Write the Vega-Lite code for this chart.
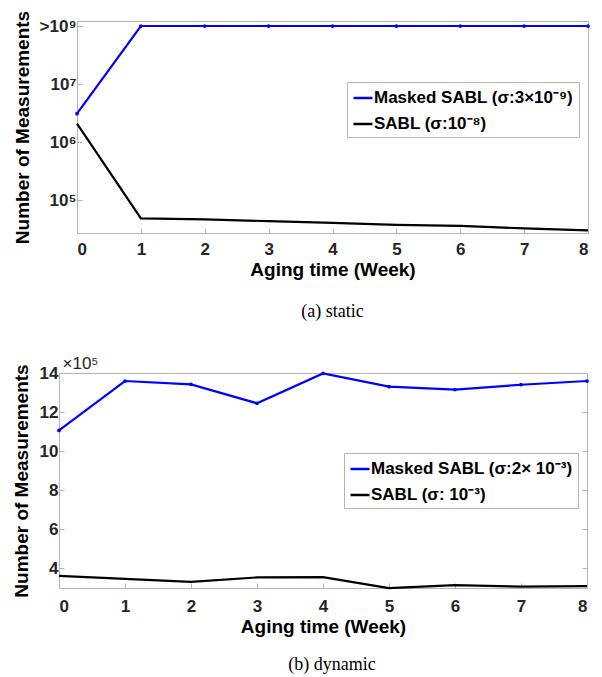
{
  "$schema": "https://vega.github.io/schema/vega-lite/v6.json",
  "padding": {"top": 9, "left": 12, "right": 5, "bottom": 2},
  "background": "white",
  "config": {
    "view": {"stroke": "#b5b5b5", "strokeWidth": 1},
    "font": "Liberation Sans",
    "axis": {
      "grid": false,
      "labelFont": "Liberation Sans",
      "labelFontWeight": "bold",
      "labelFontSize": 17,
      "labelColor": "#262626",
      "titleFont": "Liberation Sans",
      "titleFontWeight": "bold",
      "titleFontSize": 19,
      "titleColor": "#000000",
      "domainColor": "#b5b5b5",
      "tickColor": "#b5b5b5",
      "tickSize": -5
    },
    "legend": {
      "labelFont": "Liberation Sans",
      "labelFontWeight": "bold",
      "labelFontSize": 17,
      "labelColor": "#000000",
      "labelLimit": 400,
      "strokeColor": "#b5b5b5",
      "fillColor": "white",
      "padding": 5,
      "symbolType": "stroke",
      "symbolSize": 361,
      "symbolStrokeWidth": 2.5,
      "rowPadding": 7,
      "labelOffset": 0
    },
    "title": {
      "font": "Liberation Serif",
      "fontSize": 18,
      "fontWeight": "normal",
      "color": "#000000"
    }
  },
  "resolve": {"scale": {"color": "independent"}, "legend": {"color": "independent"}},
  "columns": 1,
  "align": "none",
  "spacing": 32,
  "concat": [
    {
      "title": {"text": "(a)  static", "orient": "bottom", "anchor": "middle", "offset": 24},
      "width": 511,
      "height": 212,
      "data": {
        "values": [
          {"week": 0, "value": 3100000, "series": "Masked SABL (σ:3×10⁻⁹)"},
          {"week": 1, "value": 100000000, "series": "Masked SABL (σ:3×10⁻⁹)"},
          {"week": 2, "value": 100000000, "series": "Masked SABL (σ:3×10⁻⁹)"},
          {"week": 3, "value": 100000000, "series": "Masked SABL (σ:3×10⁻⁹)"},
          {"week": 4, "value": 100000000, "series": "Masked SABL (σ:3×10⁻⁹)"},
          {"week": 5, "value": 100000000, "series": "Masked SABL (σ:3×10⁻⁹)"},
          {"week": 6, "value": 100000000, "series": "Masked SABL (σ:3×10⁻⁹)"},
          {"week": 7, "value": 100000000, "series": "Masked SABL (σ:3×10⁻⁹)"},
          {"week": 8, "value": 100000000, "series": "Masked SABL (σ:3×10⁻⁹)"},
          {"week": 0, "value": 2100000, "series": "SABL (σ:10⁻⁸)"},
          {"week": 1, "value": 49000, "series": "SABL (σ:10⁻⁸)"},
          {"week": 2, "value": 47000, "series": "SABL (σ:10⁻⁸)"},
          {"week": 3, "value": 44000, "series": "SABL (σ:10⁻⁸)"},
          {"week": 4, "value": 41000, "series": "SABL (σ:10⁻⁸)"},
          {"week": 5, "value": 38000, "series": "SABL (σ:10⁻⁸)"},
          {"week": 6, "value": 36500, "series": "SABL (σ:10⁻⁸)"},
          {"week": 7, "value": 33000, "series": "SABL (σ:10⁻⁸)"},
          {"week": 8, "value": 30500, "series": "SABL (σ:10⁻⁸)"}
        ]
      },
      "layer": [
        {
          "mark": {"type": "line", "strokeWidth": 2.2},
          "encoding": {
            "x": {
              "field": "week", "type": "quantitative",
              "scale": {"domain": [0, 8], "nice": false},
              "axis": {"title": "Aging time (Week)", "values": [0, 1, 2, 3, 4, 5, 6, 7, 8], "format": "d", "labelPadding": 13, "titlePadding": 3}
            },
            "y": {
              "field": "value", "type": "quantitative",
              "scale": {"type": "log", "domain": [27500, 122000000], "nice": false},
              "axis": {
                "title": "Number of Measurements",
                "values": [100000, 1000000, 10000000, 100000000],
                "labelExpr": "datum.value >= 1e8 ? '>10⁹' : datum.value >= 1e7 ? '10⁷' : datum.value >= 1e6 ? '10⁶' : '10⁵'",
                "labelPadding": 6,
                "titlePadding": 7
              }
            },
            "color": {
              "field": "series", "type": "nominal",
              "scale": {"domain": ["Masked SABL (σ:3×10⁻⁹)", "SABL (σ:10⁻⁸)"], "range": ["#0000ff", "#000000"]},
              "legend": {"title": null, "orient": "none", "legendX": 270, "legendY": 61}
            }
          }
        },
        {
          "transform": [{"filter": "datum.series == 'Masked SABL (σ:3×10⁻⁹)'"}],
          "mark": {"type": "point", "filled": true, "size": 14, "color": "#0000ff", "opacity": 1},
          "encoding": {
            "x": {"field": "week", "type": "quantitative"},
            "y": {"field": "value", "type": "quantitative"}
          }
        }
      ]
    },
    {
      "title": {"text": "(b)  dynamic", "orient": "bottom", "anchor": "middle", "offset": 20},
      "width": 510,
      "height": 215,
      "view": {"stroke": null},
      "data": {
        "values": [
          {"week": 0, "value": 1106000, "series": "Masked SABL (σ:2× 10⁻³)"},
          {"week": 1, "value": 1359000, "series": "Masked SABL (σ:2× 10⁻³)"},
          {"week": 2, "value": 1342000, "series": "Masked SABL (σ:2× 10⁻³)"},
          {"week": 3, "value": 1245000, "series": "Masked SABL (σ:2× 10⁻³)"},
          {"week": 4, "value": 1398000, "series": "Masked SABL (σ:2× 10⁻³)"},
          {"week": 5, "value": 1330000, "series": "Masked SABL (σ:2× 10⁻³)"},
          {"week": 6, "value": 1315000, "series": "Masked SABL (σ:2× 10⁻³)"},
          {"week": 7, "value": 1340000, "series": "Masked SABL (σ:2× 10⁻³)"},
          {"week": 8, "value": 1359000, "series": "Masked SABL (σ:2× 10⁻³)"},
          {"week": 0, "value": 362000, "series": "SABL (σ: 10⁻³)"},
          {"week": 1, "value": 347000, "series": "SABL (σ: 10⁻³)"},
          {"week": 2, "value": 331000, "series": "SABL (σ: 10⁻³)"},
          {"week": 3, "value": 354000, "series": "SABL (σ: 10⁻³)"},
          {"week": 4, "value": 356000, "series": "SABL (σ: 10⁻³)"},
          {"week": 5, "value": 299000, "series": "SABL (σ: 10⁻³)"},
          {"week": 6, "value": 315000, "series": "SABL (σ: 10⁻³)"},
          {"week": 7, "value": 307000, "series": "SABL (σ: 10⁻³)"},
          {"week": 8, "value": 310000, "series": "SABL (σ: 10⁻³)"}
        ]
      },
      "layer": [
        {
          "mark": {"type": "line", "strokeWidth": 2.2},
          "encoding": {
            "x": {
              "field": "week", "type": "quantitative",
              "scale": {"domain": [0, 8], "nice": false, "range": [-18, 510]},
              "axis": {"title": "Aging time (Week)", "values": [0, 1, 2, 3, 4, 5, 6, 7, 8], "format": "d", "labelPadding": 15, "titlePadding": 3}
            },
            "y": {
              "field": "value", "type": "quantitative",
              "scale": {"domain": [300000, 1400000], "nice": false},
              "axis": {
                "title": "Number of Measurements",
                "values": [400000, 600000, 800000, 1000000, 1200000, 1400000],
                "labelExpr": "format(datum.value / 100000, 'd')",
                "labelPadding": 6,
                "titlePadding": 8,
                "offset": 18
              }
            },
            "color": {
              "field": "series", "type": "nominal",
              "scale": {"domain": ["Masked SABL (σ:2× 10⁻³)", "SABL (σ: 10⁻³)"], "range": ["#0000ff", "#000000"]},
              "legend": {"title": null, "orient": "none", "legendX": 267, "legendY": 80}
            }
          }
        },
        {
          "transform": [{"filter": "datum.series == 'Masked SABL (σ:2× 10⁻³)'"}],
          "mark": {"type": "point", "filled": true, "size": 14, "color": "#0000ff", "opacity": 1},
          "encoding": {
            "x": {
              "field": "week", "type": "quantitative",
              "axis": {"orient": "top", "title": "×10⁵", "labels": false, "ticks": false, "domain": true, "titleAnchor": "start", "titleAlign": "left", "titleFontWeight": "normal", "titleFontSize": 17, "titleColor": "#262626", "titlePadding": 1, "titleX": -15}
            },
            "y": {
              "field": "value", "type": "quantitative",
              "axis": {"orient": "right", "title": null, "labels": false, "values": [400000, 600000, 800000, 1000000, 1200000, 1400000], "domain": true}
            }
          }
        }
      ],
      "resolve": {"axis": {"x": "independent", "y": "independent"}}
    }
  ]
}
